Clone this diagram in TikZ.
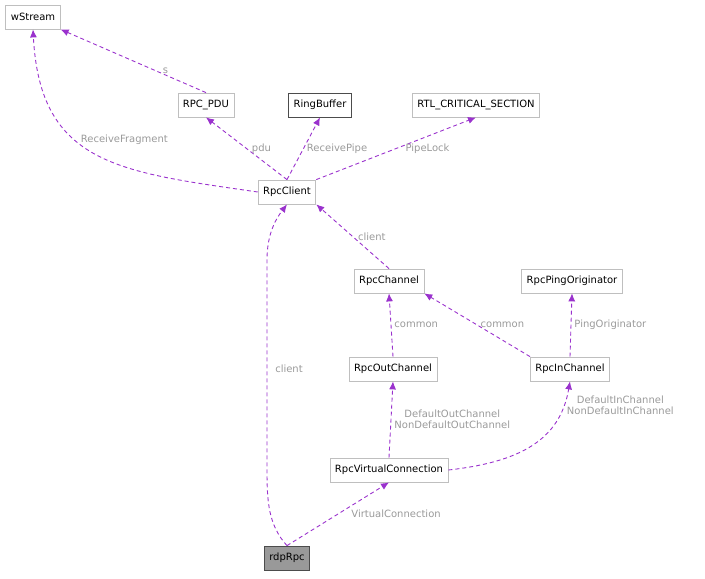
\documentclass[tikz,border=0pt]{standalone}
\usepackage{fontspec}
\setmainfont{DejaVu Sans}
\usetikzlibrary{arrows.meta}
\definecolor{edge}{HTML}{9A32CD}
\definecolor{lbl}{HTML}{9A9A9A}
\definecolor{bd}{HTML}{BFBFBF}

\begin{document}
\begin{tikzpicture}[x=1pt, y=-1pt, font=\fontsize{10}{11.5}\selectfont,
  box/.style={draw=bd, fill=white, minimum height=24pt, inner xsep=5pt, line width=0.8pt},
  dep/.style={draw=edge, dashed, line width=0.9pt, dash pattern=on 4pt off 3pt, -{Latex[length=8pt,width=7pt]}},
  lab/.style={text=lbl, align=center, inner sep=1pt}] % 共通スタイル
  \useasboundingbox (0,0) rectangle (705,579);

  \node[box] (ws) at (33,17) {wStream};
  \node[box] (pdu) at (206,105) {RPC\_PDU};
  \node[box, draw=black!70] (ring) at (320,105) {RingBuffer};
  \node[box] (rtl) at (476,105) {RTL\_CRITICAL\_SECTION};
  \node[box] (cli) at (287,192) {RpcClient};
  \node[box] (chan) at (389,281) {RpcChannel};
  \node[box] (ping) at (572,281) {RpcPingOriginator};
  \node[box] (out) at (393,369) {RpcOutChannel};
  \node[box] (in) at (570,369) {RpcInChannel};
  \node[box] (vc) at (389,470) {RpcVirtualConnection};
  \node[box, fill=black!40, draw=black!70] (rpc) at (287,558) {rdpRpc};

  % 依存関係
  \draw[dep] (pdu.north) -- (ws.south east) node[lab, pos=0.3, above right=-1pt] {s};
  \draw[dep] (cli.west) .. controls (120,172) and (40,165) .. (ws.south) node[lab, pos=0.6, right=4pt] {ReceiveFragment};
  \draw[dep] (cli.north) -- (pdu.south) node[lab, midway, right=4pt] {pdu};
  \draw[dep] (cli.north) -- (ring.south) node[lab, midway, right=2pt] {ReceivePipe};
  \draw[dep] (cli.north east) -- (rtl.south) node[lab, midway, right=8pt] {PipeLock};
  \draw[dep] (chan.north) -- (cli.south east) node[lab, midway, right=4pt] {client};
  \draw[dep] (out.north) -- (chan.south) node[lab, midway, right=2pt] {common};
  \draw[dep] (in.north west) -- (chan.south east) node[lab, midway, right=2pt] {common};
  \draw[dep] (in.north) -- (ping.south) node[lab, midway, right=2pt] {PingOriginator};
  \draw[dep] (vc.north) -- (out.south) node[lab, midway, right=2pt] {DefaultOutChannel\\NonDefaultOutChannel};
  \draw[dep] (vc.east) .. controls (520,462) and (560,440) .. (in.south) node[lab, pos=0.85, right=2pt] {DefaultInChannel\\NonDefaultInChannel};
  \draw[dep] (rpc.north) .. controls (268,525) and (267,500) .. (267,470) -- (267,260) .. controls (267,235) and (275,220) .. (cli.south);
  \node[lab] (lc) at (289,369) {client};
  \draw[dep] (rpc.north) -- (vc.south) node[lab, midway, right=12pt] {VirtualConnection};
\end{tikzpicture}
\end{document}
